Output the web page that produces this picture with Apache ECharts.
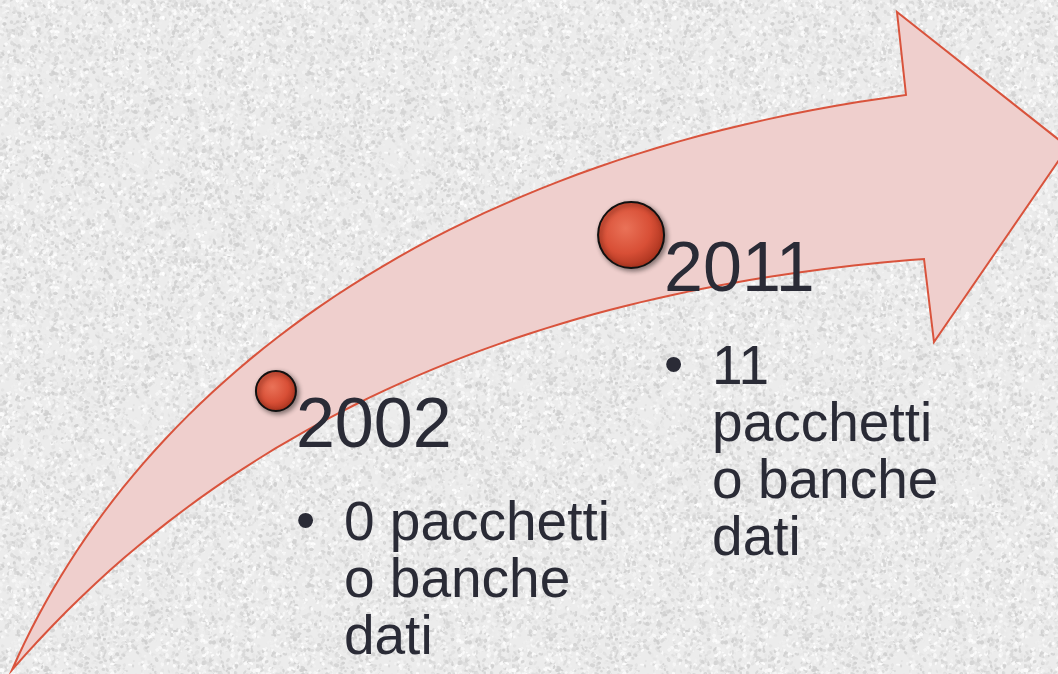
<!DOCTYPE html>
<html>
<head>
<meta charset="utf-8">
<script src="https://cdn.jsdelivr.net/npm/echarts@6/dist/echarts.min.js"></script>
<style>
  html, body { margin: 0; padding: 0; }
  #chart { width: 1058px; height: 674px; background: #ebebeb; }
</style>
</head>
<body>
<div id="chart"></div>
<script>
// dati
const anni = [2002, 2011]
const pacchetti = [0, 11]
const descrizioni = ['0 pacchetti\no banche\ndati', '11\npacchetti\no banche\ndati']

// layout
const sizes = [40, 66]
const font = '"Liberation Sans", Arial, sans-serif'
const textColor = '#2a2b36'

// texture di sfondo (granito chiaro), generatore deterministico
function makeTexture(){
  const c = document.createElement('canvas')
  c.width = 256; c.height = 256
  const ctx = c.getContext('2d')
  ctx.fillStyle = '#ececec'
  ctx.fillRect(0, 0, 256, 256)
  let s = 12345
  const rnd = () => { s = (s * 1103515245 + 12345) % 2147483648; return s / 2147483648 }
  for(let i = 0 ; i < 9000 ; i ++){
    const v = Math.floor(206 + rnd() * 50)
    ctx.fillStyle = 'rgba(' + v + ',' + v + ',' + v + ',0.8)'
    ctx.beginPath()
    ctx.ellipse(rnd() * 256, rnd() * 256, 1 + rnd() * 1.6, 0.8 + rnd() * 1.2, rnd() * 3.14, 0, Math.PI * 2)
    ctx.fill()
  }
  return c.toDataURL()
}
document.getElementById('chart').style.backgroundImage = 'url(' + makeTexture() + ')'

// curva di bezier campionata per la freccia
function bezier(p0, p1, p2, p3, n){
  const pts = []
  for(let i = 0 ; i <= n ; i ++){
    const t = i / n, u = 1 - t
    pts.push([
      u*u*u*p0[0] + 3*u*u*t*p1[0] + 3*u*t*t*p2[0] + t*t*t*p3[0],
      u*u*u*p0[1] + 3*u*u*t*p1[1] + 3*u*t*t*p2[1] + t*t*t*p3[1]
    ])
  }
  return pts
}
const arrowPts = [].concat(
  bezier([12, 670], [130, 400], [420, 160], [906, 95], 60),
  [[897, 12], [1068, 147], [934, 342]],
  bezier([924, 259], [650, 280], [280, 360], [12, 670], 60)
)

const punti = anni.map((a, i) => [a, pacchetti[i]])

const chart = echarts.init(document.getElementById('chart'))
chart.setOption({
  animation: false,
  grid: { left: 197, width: 513, top: 235, height: 156 },
  xAxis: { type: 'value', min: 2000, max: 2013, show: false, splitLine: { show: false } },
  yAxis: { type: 'value', min: 0, max: 11, show: false, splitLine: { show: false } },
  graphic: [{
    type: 'polygon',
    z: 0,
    shape: { points: arrowPts },
    style: { fill: '#efcfcd', stroke: '#d9533c', lineWidth: 2, lineJoin: 'miter' }
  }],
  series: [
    {
      name: 'anni',
      type: 'scatter',
      z: 5,
      data: punti,
      symbolSize: (v, p) => sizes[p.dataIndex],
      itemStyle: {
        color: {
          type: 'radial', x: 0.42, y: 0.4, r: 0.62,
          colorStops: [
            { offset: 0, color: '#ea7258' },
            { offset: 0.6, color: '#d84f36' },
            { offset: 1, color: '#a8321d' }
          ]
        },
        opacity: 1,
        borderColor: '#111111',
        borderWidth: 2,
        shadowBlur: 5,
        shadowColor: 'rgba(0,0,0,0.45)',
        shadowOffsetX: 2,
        shadowOffsetY: 2
      },
      label: {
        show: true,
        position: 'right',
        distance: 0,
        offset: [-1, 37],
        formatter: p => String(anni[p.dataIndex]),
        fontSize: 70,
        fontFamily: font,
        color: textColor
      }
    },
    {
      name: 'punto',
      type: 'scatter',
      z: 4,
      silent: true,
      data: punti,
      symbolSize: (v, p) => sizes[p.dataIndex],
      itemStyle: { color: 'rgba(0,0,0,0)', opacity: 1 },
      label: {
        show: true,
        position: 'right',
        distance: 0,
        offset: [0, 133],
        formatter: '\u2022',
        fontSize: 55,
        fontFamily: font,
        color: textColor
      }
    },
    {
      name: 'descrizione',
      type: 'scatter',
      z: 4,
      silent: true,
      data: punti,
      symbolSize: (v, p) => sizes[p.dataIndex],
      itemStyle: { color: 'rgba(0,0,0,0)', opacity: 1 },
      label: {
        show: true,
        position: 'right',
        distance: 0,
        offset: [48, 105],
        align: 'left',
        verticalAlign: 'top',
        lineHeight: 57,
        formatter: p => descrizioni[p.dataIndex],
        fontSize: 55,
        fontFamily: font,
        color: textColor
      }
    }
  ]
})
</script>
</body>
</html>
